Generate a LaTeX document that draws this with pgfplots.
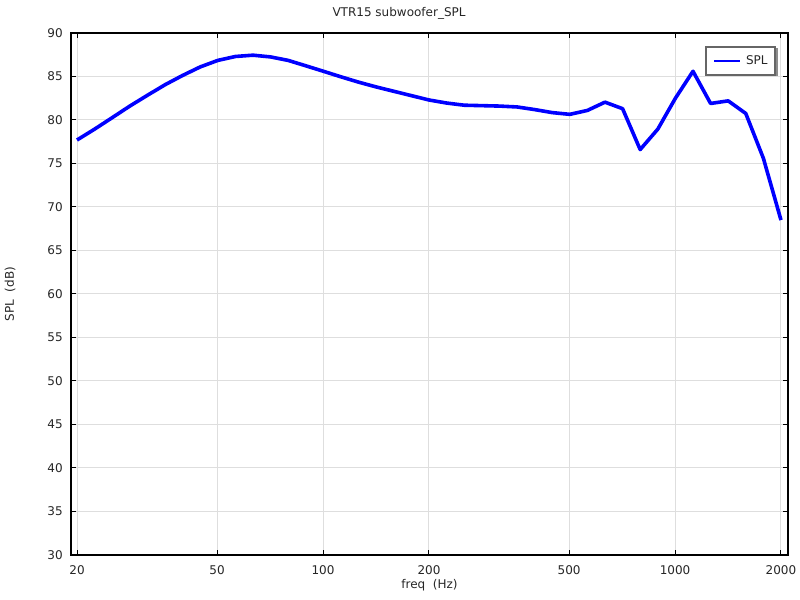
\documentclass[border=0pt]{standalone}
\usepackage{fontspec}
\setmainfont{DejaVu Sans}
\usepackage{pgfplots}
\pgfplotsset{compat=1.18}
\begin{document}
\begin{tikzpicture}
\path[use as bounding box] (0,0) rectangle (600pt,450pt);
\begin{axis}[
  at={(53.25pt,33.75pt)}, anchor=south west,
  scale only axis, width=537.75pt, height=391.5pt,
  xmode=log, xmin=19.23, xmax=2094, ymin=30, ymax=90,
  xtick={20,50,100,200,500,1000,2000},
  xticklabels={20,50,100,200,500,1000,2000},
  minor xtick={},
  ytick={30,35,...,90},
  tick pos=both, tick align=inside,
  major tick length=3.75pt,
  tick style={black, line width=0.75pt},
  axis line style={black, line width=1.1pt},
  grid=major,
  major grid style={color=black!13, line width=0.75pt},
  /pgf/number format/assume math mode=true,
  tick label style={font=\fontsize{9}{10.8}\selectfont, text=black!85},
  xticklabel style={anchor=base, yshift=-15pt},
  yticklabel style={anchor=east, inner sep=0pt, xshift=-6pt},
  title={VTR15 subwoofer\_SPL},
  title style={at={(axis description cs:0.4575,1)}, anchor=base, yshift=6pt, font=\fontsize{9}{10.8}\selectfont, text=black!85},
  xlabel={freq\ \ (Hz)},
  xlabel style={at={(axis description cs:0.5,0)}, anchor=base, yshift=-24.75pt, font=\fontsize{9}{10.8}\selectfont, text=black!85},
  ylabel={SPL\ \ (dB)},
  ylabel style={at={(axis description cs:-0.0851,0.5)}, anchor=center, font=\fontsize{9}{10.8}\selectfont, text=black!85},
  legend style={at={(axis description cs:0.983,0.975)}, anchor=north east,
    draw=black!60, line width=1.3pt, fill=white,
    font=\fontsize{9}{10.8}\selectfont, text=black!85,
    inner xsep=5.5pt, inner ysep=6.5pt, nodes={inner sep=0pt},
    /tikz/every odd column/.append style={column sep=3.75pt}},
  legend cell align=left,
  legend image code/.code={\draw[#1, line width=1.1pt] (0pt,0pt) -- (19.5pt,0pt);},
]
\fill[black!45] (axis description cs:0.891,0.971) rectangle (axis description cs:0.986,0.918);
\addplot[color={rgb,255:red,0;green,0;blue,255}, line width=2.7pt, line join=round] table {
x y
20.000 77.70
22.440 78.95
25.179 80.27
28.251 81.60
31.698 82.84
35.566 84.05
39.905 85.12
44.774 86.10
50.238 86.85
56.368 87.30
63.246 87.45
70.963 87.25
79.621 86.85
89.337 86.23
100.237 85.60
112.468 84.96
126.191 84.35
141.589 83.80
158.866 83.30
178.250 82.80
200.000 82.30
224.40 81.95
251.79 81.70
282.51 81.65
316.98 81.60
355.66 81.50
399.05 81.20
447.74 80.85
502.38 80.65
563.68 81.10
632.46 82.05
709.63 81.30
796.21 76.60
893.37 78.95
1002.37 82.50
1124.68 85.60
1261.91 81.90
1415.89 82.20
1588.66 80.75
1782.50 75.60
2000.00 68.50
};
\addlegendentry{SPL}
\end{axis}
\end{tikzpicture}
\end{document}
